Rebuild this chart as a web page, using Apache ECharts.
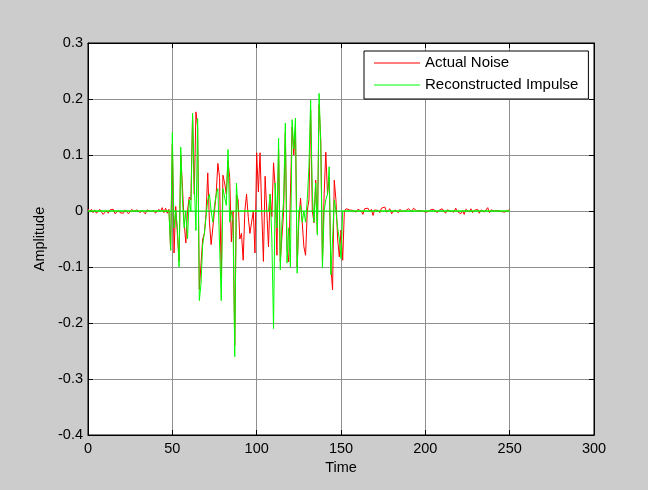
<!DOCTYPE html>
<html>
<head>
<meta charset="utf-8">
<script src="https://cdn.jsdelivr.net/npm/echarts@6/dist/echarts.min.js"></script>
<style>html,body{margin:0;padding:0;background:#cccccc;}#c{width:648px;height:490px;}</style>
</head>
<body>
<div id="c"></div>
<script>
// ---- data ----
var seriesNames = ['Actual Noise', 'Reconstructed Impulse'];
var xTicks = [0, 50, 100, 150, 200, 250, 300];
var yTicks = [-0.4, -0.3, -0.2, -0.1, 0, 0.1, 0.2, 0.3];

// Actual Noise, t = 0..47 (quiet part)
var noiseStart = [0.004,-0.002,0.003,-0.003,0.002,-0.004,-0.001,0.003,-0.002,-0.006,
  -0.003,0.001,-0.004,0.002,-0.001,0.003,-0.005,-0.002,0.001,-0.003,
  -0.006,-0.004,0.002,-0.001,-0.005,-0.002,0.003,-0.001,-0.004,0.002,
  0.000,-0.003,0.001,-0.002,-0.005,0.002,0.004,-0.001,-0.003,0.001,
  -0.004,-0.002,0.003,-0.001,0.006,-0.003,0.005,-0.004];
// Actual Noise, t = 48..152 (burst)
var noiseBurst = [0.003,-0.07,0.12,-0.075,0.008,0.01,-0.09,0.1,0.043,-0.02,
  -0.057,0.0,0.025,0.02,0.17,0.03,0.177,0.15,-0.14,-0.14,
  -0.05,-0.04,-0.004,0.068,-0.02,-0.06,-0.057,0.0,0.03,0.085,
  0.06,-0.12,0.064,0.05,0.03,0.09,0.06,-0.055,0.0,-0.24,
  0.029,0.02,-0.05,-0.04,-0.088,0.0,0.03,-0.01,-0.04,-0.02,
  0.0,-0.075,0.104,0.034,0.104,0.0,-0.09,0.062,0.0,-0.064,
  0.03,-0.01,0.086,0.04,-0.079,0.11,-0.09,-0.046,0.0,0.14,
  -0.07,-0.091,-0.09,0.15,0.1,0.15,-0.1,-0.02,0.023,-0.02,
  -0.064,-0.079,0.0,0.02,0.18,0.0,-0.021,0.055,-0.04,0.19,
  0.127,-0.09,0.03,0.105,0.029,0.06,-0.1,-0.141,0.055,0.02,
  -0.05,-0.082,-0.034,-0.088,0.0];
// Actual Noise, t = 153..250 (quiet part)
var noiseEnd = [0.004,0.006,0.002,0.005,0.001,0.004,-0.002,0.003,0.005,0.000,
  -0.006,0.004,0.002,0.005,-0.001,0.003,-0.008,0.002,0.004,0.001,
  -0.003,0.005,0.003,0.007,-0.002,0.001,0.004,-0.005,-0.008,0.002,
  0.000,-0.003,0.003,-0.001,0.002,0.000,-0.002,0.004,0.001,-0.001,
  0.005,0.002,0.000,-0.002,0.001,0.003,-0.001,0.000,-0.002,0.001,
  0.002,-0.001,0.003,0.000,-0.003,0.001,-0.002,0.004,0.001,-0.004,
  0.002,-0.001,0.000,0.003,-0.002,0.005,-0.001,0.002,-0.005,0.001,
  -0.006,0.003,0.000,-0.002,0.004,-0.003,0.001,-0.001,0.003,-0.004,
  0.002,0.000,-0.002,0.001,0.006,-0.003,0.002,-0.001,0.000,-0.002,
  0.001,0.003,-0.001,0.002,-0.002,0.000,0.001,0.002];

// Reconstructed Impulse, t = 48..152 (zero elsewhere)
var impulseBurst = [0,-0.07,0.14,-0.03,0.0,-0.03,-0.10,0.114,0.02,-0.03,
  0.0,-0.05,0.02,0.0,0.175,0.05,-0.035,0.165,-0.16,-0.13,
  -0.06,-0.04,-0.01,0.02,0.03,0.0,-0.02,0.01,0.03,0.04,
  0.04,-0.16,0.04,0.04,0.01,0.11,-0.02,0.0,-0.02,-0.26,
  0.05,0.0,0.0,0.0,0.0,0.0,0.0,0.0,0.0,0.0,
  0.0,0.0,0.0,0.0,0.0,0.0,0.0,0.0,0.0,0.0,
  0.03,-0.05,-0.21,0.05,-0.03,0.13,-0.105,-0.02,0.02,0.157,
  -0.093,-0.03,-0.1,0.163,0.111,0.166,-0.111,0.0,0.01,-0.02,
  0.0,-0.02,0.02,0.08,0.198,0.03,-0.02,0.05,-0.043,0.21,
  0.12,-0.102,0.0,0.02,0.03,0.079,-0.114,-0.05,0.02,0.0,
  -0.03,-0.05,-0.085,0.0,0.0];
var impulseStartT = 48;

// ---- build series ----
var actual = noiseStart.concat(noiseBurst, noiseEnd);
var actualData = actual.map(function (v, i) { return [i, v]; });
var impulseData = actual.map(function (v, i) {
  var k = i - impulseStartT;
  return [i, (k >= 0 && k < impulseBurst.length) ? impulseBurst[k] : 0];
});
var lastT = actual.length - 1;
var baselineData = [[0, 0], [lastT, 0]];

var font = 'Liberation Sans, Arial, Helvetica, sans-serif';
var chart = echarts.init(document.getElementById('c'), null, {renderer: 'canvas'});
chart.setOption({
  backgroundColor: '#cccccc',
  animation: false,
  textStyle: {fontFamily: font},
  grid: {left: 88, right: 54, top: 43, bottom: 55, show: true, backgroundColor: '#ffffff', borderColor: '#000000', borderWidth: 1},
  legend: {
    data: seriesNames,
    left: 364, top: 51,
    orient: 'vertical',
    backgroundColor: '#ffffff', borderColor: '#000000', borderWidth: 1, borderRadius: 0,
    padding: [4, 10, 6, 10],
    itemGap: 6,
    itemWidth: 46, itemHeight: 1,
    icon: 'rect',
    textStyle: {fontSize: 15, color: '#000', fontFamily: font, lineHeight: 16}
  },
  xAxis: [{
    type: 'value', min: xTicks[0], max: xTicks[xTicks.length - 1], interval: 50,
    name: 'Time', nameLocation: 'middle', nameGap: 24,
    nameTextStyle: {fontSize: 14.5, color: '#000'},
    axisLine: {show: true, onZero: false, lineStyle: {color: '#000', width: 1}},
    axisTick: {show: true, inside: true, length: 5, lineStyle: {color: '#000'}},
    axisLabel: {fontSize: 14.5, color: '#000', margin: 6},
    splitLine: {show: true, lineStyle: {color: '#909090', width: 1}}
  }, {
    type: 'value', position: 'top', min: xTicks[0], max: xTicks[xTicks.length - 1], interval: 50,
    axisLine: {show: true, onZero: false, lineStyle: {color: '#000'}},
    axisTick: {show: true, inside: true, length: 5, lineStyle: {color: '#000'}},
    axisLabel: {show: false}, splitLine: {show: false}
  }],
  yAxis: [{
    type: 'value', min: yTicks[0], max: yTicks[yTicks.length - 1], interval: 0.1,
    name: 'Amplitude', nameLocation: 'middle', nameGap: 37,
    nameTextStyle: {fontSize: 14.5, color: '#000'},
    axisLine: {show: true, onZero: false, lineStyle: {color: '#000', width: 1}},
    axisTick: {show: true, inside: true, length: 5, lineStyle: {color: '#000'}},
    axisLabel: {fontSize: 14.5, color: '#000', margin: 5, formatter: function (v) { return String(+v.toFixed(1)); }},
    splitLine: {show: true, lineStyle: {color: '#909090', width: 1}}
  }, {
    type: 'value', position: 'right', min: yTicks[0], max: yTicks[yTicks.length - 1], interval: 0.1,
    axisLine: {show: true, onZero: false, lineStyle: {color: '#000'}},
    axisTick: {show: true, inside: true, length: 5, lineStyle: {color: '#000'}},
    axisLabel: {show: false}, splitLine: {show: false}
  }],
  series: [{
    name: seriesNames[0], type: 'line', data: actualData, symbol: 'none',
    lineStyle: {color: '#ff0000', width: 1}, itemStyle: {color: '#ff0000'}, z: 2
  }, {
    name: 'baseline', type: 'line', data: baselineData, symbol: 'none',
    lineStyle: {color: '#00ff00', width: 1}, itemStyle: {color: '#00ff00'}, z: 3, silent: true
  }, {
    name: seriesNames[1], type: 'line', data: impulseData, symbol: 'none',
    lineStyle: {color: '#00ff00', width: 1}, itemStyle: {color: '#00ff00'}, z: 4
  }]
});
</script>
</body>
</html>
